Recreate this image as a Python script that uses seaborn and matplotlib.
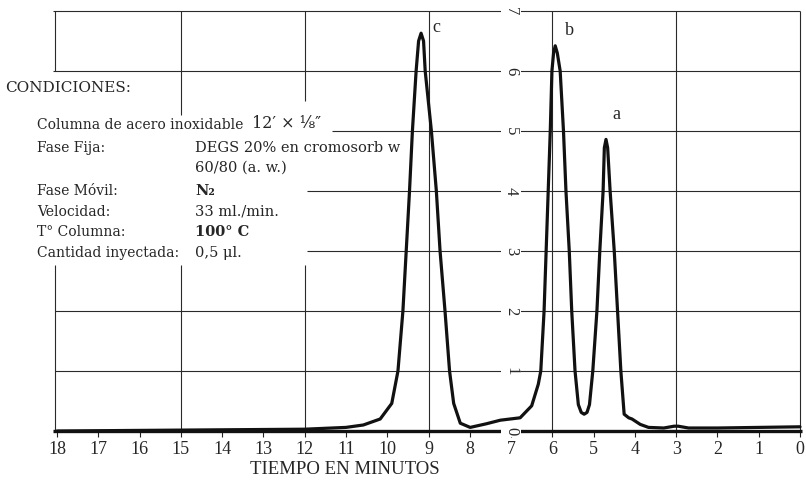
import matplotlib
matplotlib.use("Agg")
import matplotlib.pyplot as plt
import seaborn as sns
import pandas as pd

# ---- data (time in minutes, detector signal) ----
time_min = [18.0, 16.0, 14.0, 12.0, 11.0, 10.58, 10.17, 9.89, 9.74, 9.62, 9.54, 9.46,
            9.39, 9.30, 9.24, 9.18, 9.12, 9.08, 8.93, 8.81, 8.72, 8.60, 8.49, 8.39,
            8.23, 7.99, 7.6, 7.26, 6.78, 6.50, 6.34, 6.28, 6.20, 6.15, 6.10, 6.05,
            6.01, 5.97, 5.93, 5.88, 5.81, 5.73, 5.67, 5.59, 5.53, 5.45, 5.37, 5.30,
            5.23, 5.16, 5.10, 5.02, 4.92, 4.85, 4.77, 4.74, 4.70, 4.66, 4.60, 4.50,
            4.42, 4.34, 4.26, 4.15, 4.07, 3.87, 3.67, 3.3, 3.05, 2.95, 2.7, 2.0, 1.0, 0.0]
signal = [0.0, 0.01, 0.02, 0.03, 0.06, 0.10, 0.20, 0.46, 1.0, 2.0, 3.0, 4.0,
          5.0, 6.0, 6.5, 6.63, 6.5, 6.0, 5.0, 4.0, 3.0, 2.0, 1.0, 0.46,
          0.13, 0.06, 0.12, 0.18, 0.22, 0.42, 0.78, 1.0, 2.0, 3.0, 4.0, 5.0,
          6.0, 6.3, 6.42, 6.3, 6.0, 5.0, 4.0, 3.0, 2.0, 1.0, 0.44, 0.31,
          0.28, 0.31, 0.44, 1.0, 2.0, 3.0, 4.0, 4.72, 4.86, 4.72, 4.0, 3.0,
          2.0, 1.0, 0.28, 0.22, 0.20, 0.11, 0.06, 0.05, 0.08, 0.08, 0.05, 0.05, 0.06, 0.07]

peak_labels = ["c", "b", "a"]
peak_label_t = [8.81, 5.59, 4.46]
peak_label_v = [6.72, 6.68, 5.27]

x_ticks = list(range(0, 19))
y_labels = ["0", "1", "2", "3", "4", "5", "6", "7"]

cond_title = "CONDICIONES:"
cond_keys = ["Columna de acero inoxidable", "Fase Fija:", "", "Fase Móvil:",
             "Velocidad:", "T° Columna:", "Cantidad inyectada:"]
cond_vals = ["", "DEGS 20% en cromosorb w", "60/80 (a. w.)", "N₂",
             "33 ml./min.", "100° C", "0,5 μl."]
column_size = "12′ × ⅛″"
x_title = "TIEMPO EN MINUTOS"

# ---- styling ----
sns.set_style("white")
SERIF = ["Liberation Serif", "DejaVu Serif"]
WIDE = ["DejaVu Serif", "Liberation Serif"]
plt.rcParams["font.family"] = SERIF

W, H = 806, 488
fig = plt.figure(figsize=(W / 100, H / 100), dpi=100)
ax = fig.add_axes([57 / W, 57 / H, 743 / W, 420 / H])
ax.set_xlim(18, 0)
ax.set_ylim(0, 7)
for s in ax.spines.values():
    s.set_visible(False)

df = pd.DataFrame({"t": time_min, "v": signal})
gc = "#2a2a2a"
glw = 0.8

# grid structure of the chart paper
ax.hlines([7, 6], 18.1, 0, color=gc, lw=glw, clip_on=False, zorder=1)
ax.hlines([5], 11.33, 0, color=gc, lw=glw, clip_on=False, zorder=1)
ax.hlines([4, 3], 11.94, 0, color=gc, lw=glw, clip_on=False, zorder=1)
ax.hlines([2, 1], 18.05, 0, color=gc, lw=glw, clip_on=False, zorder=1)
ax.vlines([18.05], 6, 7, color=gc, lw=glw, clip_on=False, zorder=1)
ax.vlines([15], 5.27, 7, color=gc, lw=glw, clip_on=False, zorder=1)
ax.vlines([12], 5.5, 7, color=gc, lw=glw, clip_on=False, zorder=1)
ax.vlines([18.05, 15, 12], 0, 2.77, color=gc, lw=glw, clip_on=False, zorder=1)
ax.vlines([9, 6, 3, 0], 0, 7, color=gc, lw=glw, clip_on=False, zorder=1)

# baseline
ax.hlines([0], 18.1, -0.05, color="#111", lw=2.4, clip_on=False, zorder=2)

# trace
sns.lineplot(data=df, x="t", y="v", sort=False, estimator=None, ax=ax,
             color="#111", lw=2.3, zorder=3, clip_on=False)

# ticks
ax.set_xticks(x_ticks)
ax.set_xticklabels([str(t) for t in x_ticks], fontsize=13, family=SERIF)
ax.tick_params(axis="x", direction="out", length=4, width=0.8, color="#222",
               pad=3, bottom=True)
ax.set_yticks([])
ax.set_xlabel("")
ax.set_ylabel("")

# vertical scale numbers (rotated) at t = 7
for i, lab in enumerate(y_labels):
    ax.text(7.0, i, lab, rotation=-90, ha="center", va="center", fontsize=12,
            family=SERIF, zorder=4,
            bbox=dict(boxstyle="square,pad=0.12", fc="white", ec="none"))

# peak letters
for lab, t, v in zip(peak_labels, peak_label_t, peak_label_v):
    ax.text(t, v, lab, fontsize=13, family=SERIF, ha="center", va="center", zorder=4)

# conditions block (pixel positions)
def fx(x):
    return x / W

def fy(y):
    return 1 - y / H

fig.text(fx(5), fy(88), cond_title, fontsize=11, family=WIDE, ha="left", va="center")
row_y = [125, 148, 168, 191, 212, 232, 253]
for k, v, y in zip(cond_keys, cond_vals, row_y):
    if k:
        fig.text(fx(37), fy(y), k, fontsize=10, family=WIDE, ha="left", va="center")
    if v:
        fig.text(fx(195), fy(y), v, fontsize=10.5, family=WIDE, ha="left", va="center",
                 weight="bold" if v in ("N₂", "100° C") else "normal")
fig.text(fx(252), fy(124), column_size, fontsize=11.5, family=WIDE, ha="left", va="center")

fig.text(fx(345), fy(470), x_title, fontsize=13.5, family=SERIF, ha="center", va="center")

fig.savefig("out.png", dpi=100, facecolor="white")
